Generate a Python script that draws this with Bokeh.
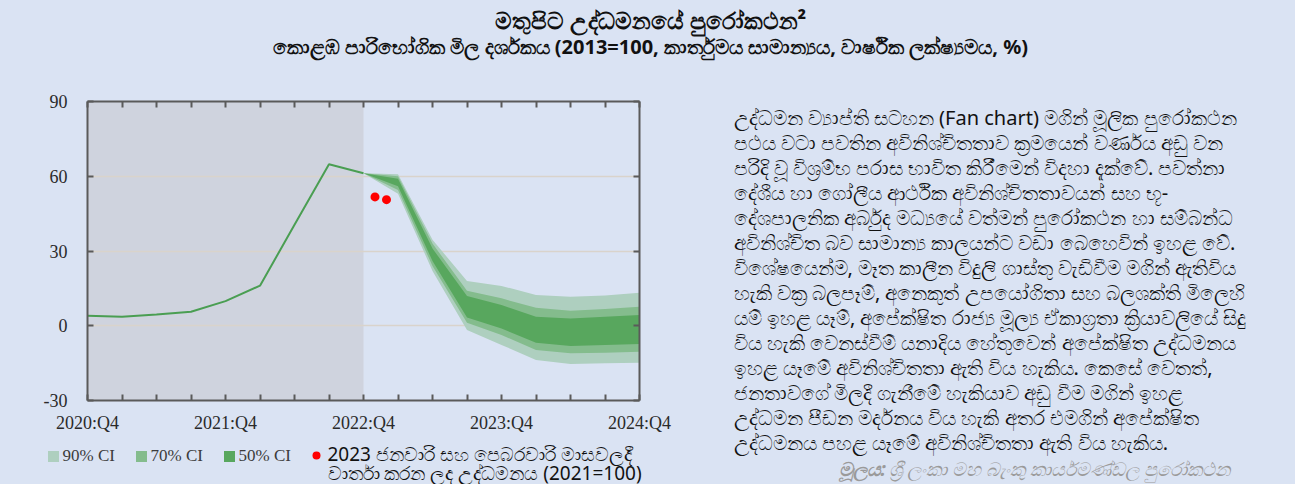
from bokeh.plotting import figure
from bokeh.models import Label, FixedTicker, LinearAxis, Range1d
from bokeh.layouts import column, row
from bokeh.embed import file_html
from bokeh.resources import INLINE

# ---------------- data ----------------
quarters = ["2020:Q4", "2021:Q1", "2021:Q2", "2021:Q3", "2021:Q4", "2022:Q1", "2022:Q2",
            "2022:Q3", "2022:Q4", "2023:Q1", "2023:Q2", "2023:Q3", "2023:Q4", "2024:Q1",
            "2024:Q2", "2024:Q3", "2024:Q4"]
actual = [4.0, 3.6, 4.5, 5.6, 9.9, 16.1, 40.5, 64.8, 61.2]
fan_start = "2022:Q4"
upper90 = [61.2, 60.8, 34.5, 18.0, 16.0, 12.3, 11.6, 12.1, 13.2]
upper70 = [61.2, 60.0, 33.0, 14.0, 11.0, 7.2, 6.0, 6.7, 7.6]
upper50 = [61.2, 59.0, 31.0, 11.9, 8.3, 3.6, 2.9, 3.6, 4.3]
lower50 = [61.2, 56.0, 26.0, 3.3, -1.1, -6.8, -8.1, -7.7, -7.3]
lower70 = [61.2, 54.5, 24.0, 1.2, -3.7, -9.7, -11.0, -10.8, -10.4]
lower90 = [61.2, 53.0, 22.0, -1.7, -7.7, -13.7, -15.4, -15.0, -14.8]
dot_months = [1, 2]            # January and February 2023 (months after 2022:Q4)
dot_values = [51.7, 50.6]
y_ticks = [-30, 0, 30, 60, 90]
x_labelled = ["2020:Q4", "2021:Q4", "2022:Q4", "2023:Q4", "2024:Q4"]

title = "මතුපිට උද්ධමනයේ පුරෝකථන²"
subtitle = "කොළඹ පාරිභෝගික මිල දර්ශකය (2013=100, කාර්තුමය සාමාන්‍යය, වාර්ෂික ලක්ෂ්‍යමය, %)"
legend_ci = ["90% CI", "70% CI", "50% CI"]
legend_dot = ["2023 ජනවාරි සහ පෙබරවාරි මාසවලදී", "වාර්තා කරන ලද උද්ධමනය (2021=100)"]
paragraph = [
    "උද්ධමන ව්‍යාප්ති සටහන (Fan chart) මගින් මූලික පුරෝකථන",
    "පථය වටා පවතින අවිනිශ්චිතතාව ක්‍රමයෙන් වර්ණය අඩු වන",
    "පරිදි වූ විශ්‍රම්භ පරාස භාවිත කිරීමෙන් විදහා දැක්වේ. පවත්නා",
    "දේශීය හා ගෝලීය ආර්ථික අවිනිශ්චිතතාවයන් සහ භූ-",
    "දේශපාලනික අර්බුද මධ්‍යයේ වත්මන් පුරෝකථන හා සම්බන්ධ",
    "අවිනිශ්චිත බව සාමාන්‍ය කාලයන්ට වඩා බෙහෙවින් ඉහළ වේ.",
    "විශේෂයෙන්ම, මෑත කාලීන විදුලි ගාස්තු වැඩිවීම මගින් ඇතිවිය",
    "හැකි වක්‍ර බලපෑම්, අනෙකුත් උපයෝගිතා සහ බලශක්ති මිලෙහි",
    "යම් ඉහළ යෑම්, අපේක්ෂිත රාජ්‍ය මූල්‍ය ඒකාග්‍රතා ක්‍රියාවලියේ සිදු",
    "විය හැකි වෙනස්වීම් යනාදිය හේතුවෙන් අපේක්ෂිත උද්ධමනය",
    "ඉහළ යෑමේ අවිනිශ්චිතතා ඇති විය හැකිය. කෙසේ වෙතත්,",
    "ජනතාවගේ මිලදී ගැනීමේ හැකියාව අඩු වීම මගින් ඉහළ",
    "උද්ධමන පීඩන මර්දනය විය හැකි අතර එමගින් අපේක්ෂිත",
    "උද්ධමනය පහළ යෑමේ අවිනිශ්චිතතා ඇති විය හැකිය.",
]
source_head = "මූලය:"
source_text = "ශ්‍රී ලංකා මහ බැංකු කාර්යමණ්ඩල පුරෝකථන"

# ---------------- styling ----------------
BG = "#dae3f3"
SHADE = "#cfd3de"
GREEN = "#4a9e52"
C90, C70, C50 = "#aecfbf", "#84bc8d", "#58a75e"
AXC = "#5a5a5a"
SERIF = "Liberation Serif"
SANS = "Noto Sans"
PSIZE = 20

W, H = 1295, 484
TOP_H = 70            # title strip height
LEFT_W = 700          # chart column width
CHART_H = 365         # chart figure height
LEG_Y = TOP_H + CHART_H


def canvas(x0, x1, y0, y1):
    """A blank figure whose data coordinates equal page pixel coordinates."""
    f = figure(width=x1 - x0, height=y1 - y0, x_range=Range1d(x0, x1), y_range=Range1d(y1, y0),
               output_backend="svg", toolbar_location=None, x_axis_type=None, y_axis_type=None,
               min_border=0, background_fill_color=BG, border_fill_color=BG,
               outline_line_color=None)
    f.grid.visible = False
    return f


def lab(f, X, Y, text, size, font=SANS, color="#111111", style="normal", align="left"):
    f.add_layout(Label(x=X, y=Y, text=text, text_font=font, text_font_size=f"{size}px",
                       text_color=color, text_font_style=style, text_align=align,
                       text_baseline="middle"))


# ---------------- title strip ----------------
tf = canvas(0, W, 0, TOP_H)
lab(tf, 650, 19, title, 23, style="bold", align="center")
lab(tf, 650, 46, subtitle, 20, style="bold", align="center")

# ---------------- chart ----------------
xi = list(range(len(quarters)))
x_actual = xi[:len(actual)]
i0 = quarters.index(fan_start)
x_fan = xi[i0:i0 + len(upper90)]
x_dots = [i0 + m / 3 for m in dot_months]

FRAME_L, FRAME_T, FRAME_W, FRAME_H = 87, 101, 552, 300
p = figure(width=LEFT_W, height=CHART_H, x_range=Range1d(0, len(quarters) - 1),
           y_range=Range1d(-30, 90), output_backend="svg", toolbar_location=None,
           min_border_left=FRAME_L, min_border_right=LEFT_W - FRAME_L - FRAME_W,
           min_border_top=FRAME_T - TOP_H, min_border_bottom=CHART_H - (FRAME_T - TOP_H) - FRAME_H,
           background_fill_color=BG, border_fill_color=BG, outline_line_color=None)

sh = p.quad(left=[0], right=[i0], bottom=[-30], top=[90], fill_color=SHADE, line_color=None)
sh.level = "image"

p.varea(x=x_fan, y1=lower90, y2=upper90, fill_color=C90)
p.varea(x=x_fan, y1=lower70, y2=upper70, fill_color=C70)
p.varea(x=x_fan, y1=lower50, y2=upper50, fill_color=C50)
p.line(x_actual, actual, line_color=GREEN, line_width=2)
p.scatter(x_dots, dot_values, size=9, color="#ff0000", line_color=None)


def style_axis(ax):
    ax.axis_line_color = AXC
    ax.axis_line_width = 2
    ax.major_tick_line_color = AXC
    ax.major_tick_line_width = 2
    ax.major_tick_in = 6
    ax.major_tick_out = 0
    ax.minor_tick_line_color = None


xa = p.xaxis[0]
xa.ticker = FixedTicker(ticks=xi)
xa.major_label_overrides = {i: (q if q in x_labelled else "") for i, q in enumerate(quarters)}
xa.major_label_text_font = SERIF
xa.major_label_text_font_size = "18px"
xa.major_label_text_color = "#2a2a2a"
xa.major_label_standoff = 12
style_axis(xa)

ya = p.yaxis[0]
ya.ticker = FixedTicker(ticks=y_ticks)
ya.major_label_overrides = {t: str(t) for t in y_ticks}
ya.major_label_text_font = SERIF
ya.major_label_text_font_size = "18px"
ya.major_label_text_color = "#2a2a2a"
ya.major_label_standoff = 20
style_axis(ya)

top = LinearAxis(ticker=FixedTicker(ticks=xi), major_label_overrides={i: "" for i in xi},
                 major_label_text_font_size="1px")
style_axis(top)
p.add_layout(top, "above")
right = LinearAxis(ticker=FixedTicker(ticks=y_ticks), major_label_overrides={t: "" for t in y_ticks},
                   major_label_text_font_size="1px")
style_axis(right)
p.add_layout(right, "right")

p.xgrid.visible = False
p.ygrid.ticker = FixedTicker(ticks=y_ticks)
p.ygrid.grid_line_color = "#d9d3cb"
p.ygrid.grid_line_width = 1.5

# ---------------- legend strip ----------------
lf = canvas(0, LEFT_W, LEG_Y, H)
sq_x = [53, 141, 229]
lf.scatter(sq_x, [456] * 3, marker="square", size=11, color=[C90, C70, C50], line_color=None)
for cx, t in zip(sq_x, legend_ci):
    lab(lf, cx + 9, 455, t, 17, font=SERIF, color="#3c3c3c")
lf.scatter([316], [455], size=8, color="#ff0000", line_color=None)
lab(lf, 327, 453, legend_dot[0], 19)
lab(lf, 327, 472, legend_dot[1], 19)

# ---------------- paragraph ----------------
rf = canvas(LEFT_W, W, TOP_H, H)
for k, line in enumerate(paragraph):
    lab(rf, 733, 117 + 25 * k, line, PSIZE)
lab(rf, 838, 468, source_head, 19, color="#9a9a9a", style="bold italic")
lab(rf, 888, 468, source_text, 19, color="#9a9a9a", style="italic")

layout = column(tf, row(column(column(p), lf), rf), styles={"background-color": BG})
open("out.html", "w").write(file_html(layout, INLINE))
